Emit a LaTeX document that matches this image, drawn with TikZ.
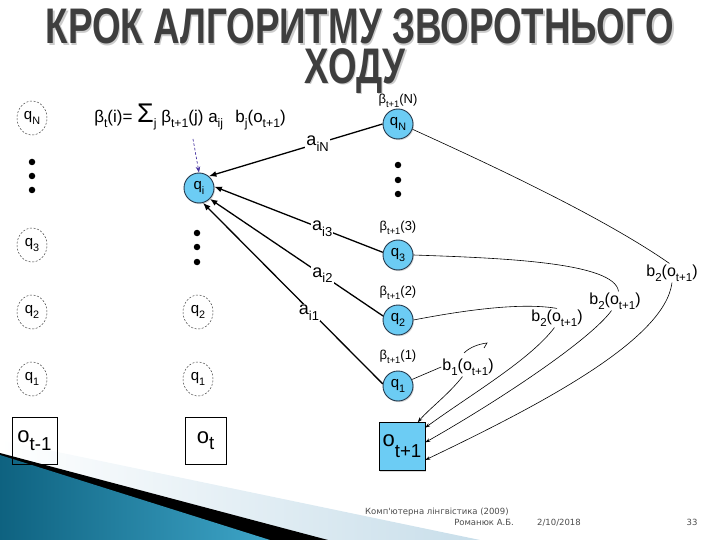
\documentclass[tikz,border=0pt]{standalone}
\usepackage{fontspec}
\setmainfont{Liberation Sans}
\newfontfamily\footfont{DejaVu Sans}
\usetikzlibrary{arrows.meta,shadows,shapes.geometric}
\newcommand\dn[3][0.72]{\raisebox{#2}{\scalebox{#1}{#3}}}
\newcommand\lowsub[2][0.72]{\raisebox{-0.6ex}{\scalebox{#1}{#2}}}
\definecolor{qblue}{RGB}{108,204,244}
\definecolor{qedge}{RGB}{35,55,75}
\definecolor{titlegrey}{RGB}{62,62,62}
\definecolor{tealdark}{RGB}{14,98,128}
\definecolor{teallight}{RGB}{62,165,200}
\definecolor{lightband}{RGB}{200,222,234}
\definecolor{dashblue}{RGB}{70,50,160}
\begin{document}
\begin{tikzpicture}[x=1pt,y=-1pt,
  qfill/.style={circle,draw=qedge,line width=0.9pt,fill=qblue,minimum size=30pt,inner sep=0pt,
    font=\fontsize{15}{15}\selectfont,
    drop shadow={shadow xshift=1pt,shadow yshift=-1.2pt,opacity=0.3}},
  qdash/.style={ellipse,draw=black!75,dash pattern=on 2pt off 1.6pt,line width=0.5pt,
    minimum width=30pt,minimum height=34pt,inner sep=0pt,font=\fontsize{15}{15}\selectfont},
  dotnode/.style={circle,fill=black,inner sep=0pt,minimum size=6.5pt},
  obox/.style={rectangle,draw=black,line width=0.6pt,inner sep=0pt,font=\fontsize{22}{22}\selectfont},
  alab/.style={fill=white,inner sep=1pt,font=\fontsize{18}{18}\selectfont},
  blab/.style={inner sep=1pt,font=\fontsize{16}{16}\selectfont},
  betalab/.style={inner sep=0pt,font=\fontsize{13}{13}\selectfont},
  trans/.style={line width=1.3pt,-{Latex[length=7.5pt,width=6pt]}},
  emis/.style={line width=0.6pt},
  emisarrow/.style={line width=0.6pt,-{Stealth[length=5pt,width=3.5pt]}},
  titlefont/.style={font=\fontsize{50}{54}\selectfont\bfseries,anchor=base},
  foot/.style={font=\footfont\fontsize{8.5}{9}\selectfont,text=black!70,inner sep=0pt}
]
\useasboundingbox (0,0) rectangle (720,540);

% bottom-left decoration
\shade[left color=white,right color=lightband] (0,440) -- (480,540) -- (0,540) -- cycle;
\fill[black] (0,453) -- (328,540) -- (0,540) -- cycle;
\shade[left color=tealdark,right color=teallight] (0,455) -- (270,540) -- (0,540) -- cycle;

% title
\node[titlefont,text=black!20] (title1s) at (361.5,45.5) {\scalebox{0.735}[1]{КРОК АЛГОРИТМУ ЗВОРОТНЬОГО}};
\node[titlefont,text=titlegrey] (title1) at (360,44) {\scalebox{0.735}[1]{КРОК АЛГОРИТМУ ЗВОРОТНЬОГО}};
\node[titlefont,text=black!20] (title2s) at (356.5,85) {\scalebox{0.735}[1]{ХОДУ}};
\node[titlefont,text=titlegrey] (title2) at (355,83.5) {\scalebox{0.735}[1]{ХОДУ}};

% formula
\node[inner sep=0pt,font=\fontsize{17}{17}\selectfont] (formula) at (190,117)
  {β\lowsub{t}(i)= {\fontsize{27}{27}\selectfont Σ}\lowsub{j} β\lowsub{t+1}(j) a\lowsub{ij}\;\, b\lowsub{j}(o\lowsub{t+1})};

% left column
\node[qdash] (qN0) at (32,118) {q\lowsub{N}};
\node[dotnode] (d01) at (32,162) {};
\node[dotnode] (d02) at (32,176) {};
\node[dotnode] (d03) at (32,190) {};
\node[qdash] (q30) at (32,245) {q\lowsub{3}};
\node[qdash] (q20) at (32,312) {q\lowsub{2}};
\node[qdash] (q10) at (32,379) {q\lowsub{1}};
\node[obox,minimum width=45pt,minimum height=47pt] (o0) at (34.5,440.5) {o\dn[0.85]{-0.7ex}{t-1}};

% middle column
\node[qfill] (qi) at (199,188) {q\lowsub{i}};
\node[dotnode] (d11) at (197,233) {};
\node[dotnode] (d12) at (197,247) {};
\node[dotnode] (d13) at (197,262) {};
\node[qdash] (q2m) at (198,312) {q\lowsub{2}};
\node[qdash] (q1m) at (198,379) {q\lowsub{1}};
\node[obox,minimum width=41pt,minimum height=47pt] (o1) at (205.5,440.5) {o\dn[0.85]{-0.5ex}{t}};

% right column
\node[qfill] (qN) at (398,124) {q\lowsub{N}};
\node[betalab] (bN) at (398,101) {β\lowsub{t+1}(N)};
\node[dotnode] (d21) at (398,165) {};
\node[dotnode] (d22) at (398,180) {};
\node[dotnode] (d23) at (398,194) {};
\node[qfill] (q3) at (398,255) {q\lowsub{3}};
\node[betalab] (b3) at (398,228) {β\lowsub{t+1}(3)};
\node[qfill] (q2) at (398,320) {q\lowsub{2}};
\node[betalab] (b2) at (398,293) {β\lowsub{t+1}(2)};
\node[qfill] (q1) at (398,386) {q\lowsub{1}};
\node[betalab] (b1) at (398,357) {β\lowsub{t+1}(1)};
\node[obox,fill=qblue,minimum width=46pt,minimum height=48pt,
  drop shadow={shadow xshift=1pt,shadow yshift=-1.2pt,opacity=0.3}] (o2) at (402,446.5) {o\dn[0.85]{-0.95ex}{t+1}};

% transitions
\draw[trans] (qN.180) -- node[alab,pos=0.374] {a\lowsub{iN}} (qi.50);
\draw[trans] (q3.170) -- node[alab,pos=0.36] {a\lowsub{i3}} (qi.5);
\draw[trans] (q2.165) -- node[alab,pos=0.35] {a\lowsub{i2}} (qi.-45);
\draw[trans] (q1.172) -- node[alab,pos=0.41,yshift=-3pt] {a\lowsub{i1}} (qi.-75);

% dashed pointer from formula
\coordinate (dashstart) at (193,139);
\draw[dashblue,dash pattern=on 2.5pt off 2pt,line width=0.7pt,-{Stealth[length=6pt,width=4.5pt]}] (dashstart) -- (qi.north);

% emission labels
\node[blab] (bl1) at (672,273) {b\lowsub{2}(o\lowsub{t+1})};
\node[blab] (bl2) at (615,301) {b\lowsub{2}(o\lowsub{t+1})};
\node[blab] (bl3) at (557,318) {b\lowsub{2}(o\lowsub{t+1})};
\node[blab] (bl0) at (468,367) {b\lowsub{1}(o\lowsub{t+1})};

% emission curves
\draw[emis] (qN.-20) .. controls (480,160) and (600,215) .. (bl1.105);
\draw[emisarrow] (bl1.south) .. controls (665,340) and (540,405) .. (o2.-30);
\draw[emis] (q3.east) .. controls (500,258) and (615,262) .. (bl2.70);
\draw[emisarrow] (bl2.-110) .. controls (590,340) and (500,400) .. (o2.10);
\draw[emis] (q2.east) .. controls (460,311) and (520,302) .. (bl3.north);
\draw[emisarrow] (bl3.-105) .. controls (530,360) and (470,395) .. (o2.39);
\draw[emis] (q1.25) -- (bl0.west);
\draw[emisarrow] (bl0.-120) .. controls (448,395) and (430,408) .. (o2.57);
\draw[emis] (464,353) .. controls (470,347) and (479,344) .. (487,343) -- (484,348);

% footer
\node[foot,anchor=base west] (f1) at (365,514) {Комп'ютерна лінгвістика (2009)};
\node[foot,anchor=base east] (f2) at (514,525) {Романюк А.Б.};
\node[foot,anchor=base west] (f3) at (537,525) {2/10/2018};
\node[foot,anchor=base] (f4) at (692,525) {33};
\end{tikzpicture}
\end{document}
